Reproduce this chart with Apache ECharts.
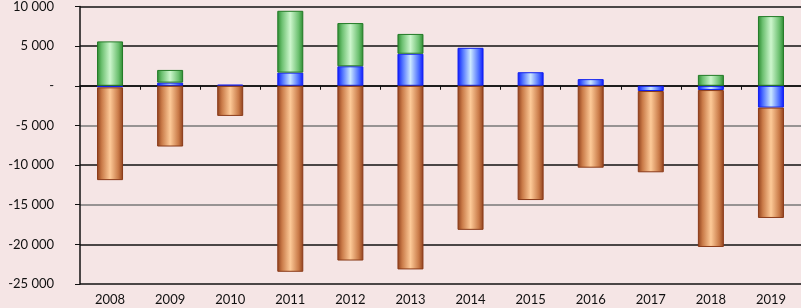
<!DOCTYPE html>
<html><head><meta charset="utf-8">
<script src="https://cdn.jsdelivr.net/npm/echarts@6/dist/echarts.min.js"></script>
<style>html,body{margin:0;padding:0;background:#f5e5e5;}#c{width:801px;height:308px;}</style>
</head><body><div id="c"></div>
<script>
var categories = ['2008','2009','2010','2011','2012','2013','2014','2015','2016','2017','2018','2019'];
var blueValues = [-200, 400, 150, 1660, 2460, 4040, 4790, 1710, 840, -660, -540, -2750];
var brownValues = [-11700, -7660, -3800, -23460, -22040, -23160, -18170, -14410, -10330, -10250, -19790, -13920];
var greenValues = [5600, 1600, null, 7800, 5450, 2500, null, null, null, null, 1375, 8790];
var yTicks = [-25000, -20000, -15000, -10000, -5000, 0, 5000, 10000];

function grad(edge, mid, light) {
  return new echarts.graphic.LinearGradient(0, 0, 1, 0, [
    {offset: 0, color: edge}, {offset: 0.18, color: mid}, {offset: 0.5, color: light},
    {offset: 0.82, color: mid}, {offset: 1, color: edge}]);
}
function fmt(v) {
  if (v === 0) return '-';
  var s = Math.abs(v).toString().replace(/\B(?=(\d{3})+(?!\d))/g, ' ');
  return (v < 0 ? '-' : '') + s;
}
var chart = echarts.init(document.getElementById('c'));
var font = 'Lato, "Open Sans", sans-serif';
chart.setOption({
  backgroundColor: '#f5e5e5',
  animation: false,
  grid: {left: 80, right: 0, top: 5, bottom: 24},
  xAxis: [{
    type: 'category', data: categories, position: 'bottom',
    axisLine: {show: false, onZero: false}, axisTick: {show: false},
    axisLabel: {color: '#111', fontSize: 13, fontFamily: font, margin: 9}
  }, {
    type: 'category', data: categories, position: 'bottom',
    axisLine: {show: true, onZero: true, lineStyle: {color: '#111', width: 1.5}},
    axisTick: {show: true, inside: false, length: 4, lineStyle: {color: '#111'}},
    axisLabel: {show: false}
  }],
  yAxis: {
    type: 'value', min: -25000, max: 10000, interval: 5000,
    axisLine: {show: true, lineStyle: {color: '#111', width: 1.5}},
    axisTick: {show: true, length: 5, lineStyle: {color: '#111'}},
    axisLabel: {color: '#111', fontSize: 13, fontFamily: font, margin: 26, formatter: fmt},
    splitLine: {show: true, lineStyle: {color: ['#111','#111','#777','#111','#777','#111','#111','#111'], width: 1.5}}
  },
  series: [{
    name: 'blue', type: 'bar', stack: 's', data: blueValues, barWidth: 26, xAxisIndex: 0,
    itemStyle: {color: grad('#0a14ff', '#4a6cff', '#cbe8ff'), borderColor: '#1020ee', borderWidth: 1}
  }, {
    name: 'brown', type: 'bar', stack: 's', data: brownValues, barWidth: 26, xAxisIndex: 0,
    itemStyle: {color: grad('#8e3f1b', '#c97a48', '#fdca98'), borderColor: '#8a3a18', borderWidth: 1}
  }, {
    name: 'green', type: 'bar', stack: 's', data: greenValues, barWidth: 26, xAxisIndex: 0,
    itemStyle: {color: grad('#2a8a2e', '#6cc070', '#cdf6cd'), borderColor: '#227a26', borderWidth: 1}
  }]
});
</script></body></html>
